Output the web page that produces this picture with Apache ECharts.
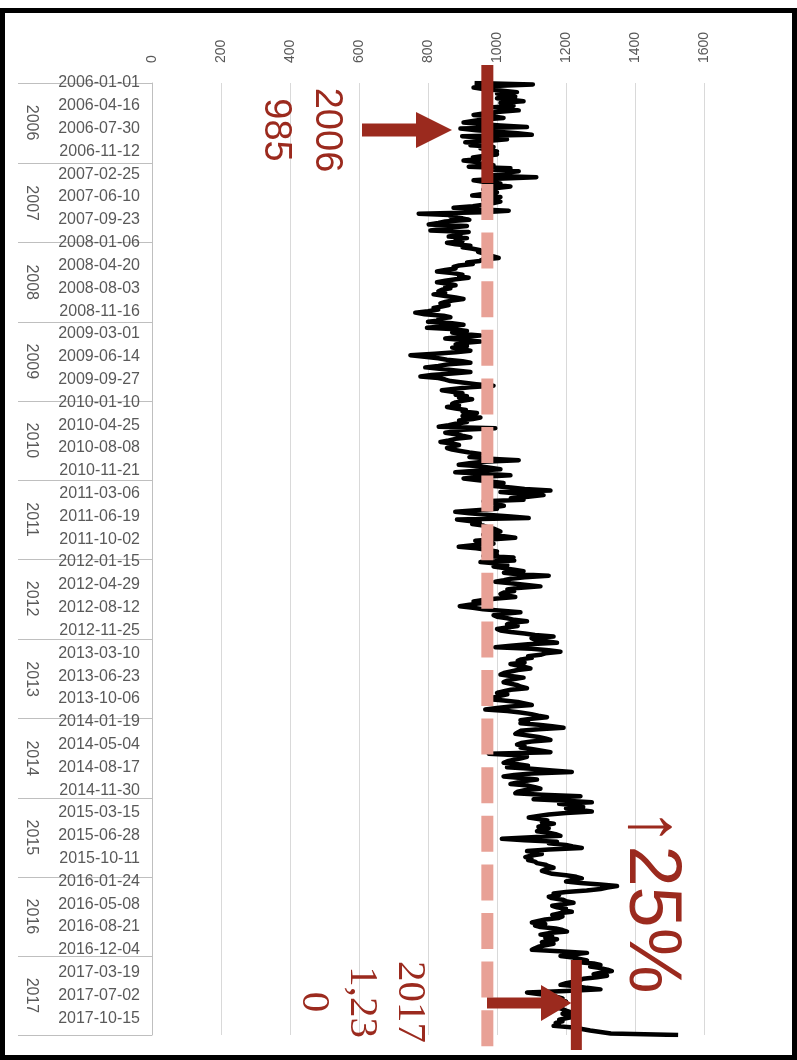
<!DOCTYPE html>
<html><head><meta charset="utf-8">
<script src="https://cdn.jsdelivr.net/npm/echarts@6/dist/echarts.min.js"></script>
<style>html,body{margin:0;padding:0;background:#fff}#c{width:797px;height:1060px}</style>
</head><body><div id="c"></div>
<script>
// ---- data (weekly values) ----
const y2006 = [935,1104,990,932,960,1010,1058,1000,1030,1053,1000,1040,1077,1010,1020,1048,990,1030,1063,1000,960,932,990,1019,960,930,903,950,1010,1087,894,940,1000,1060,1101,899,960,1029,980,908,960,923,990,952,975,1000,985,1000,960,930,950,903,940];
const y2007 = [952,990,918,1039,990,1063,1020,1010,980,1114,1000,932,960,1010,990,1039,1000,960,971,1000,960,928,1010,990,960,1010,990,961,930,874,940,1034,960,773,880,865,900,920,850,830,802,913,870,840,807,918,880,894,860,913,880,900];
const y2008 = [855,880,923,900,930,952,945,960,975,970,1005,960,950,913,930,890,874,880,850,826,870,900,890,918,880,850,826,860,880,850,865,840,830,850,816,850,880,903,870,850,836,860,840,816,830,800,763,790,845,865,830,840];
const y2009 = [800,870,903,850,797,880,913,870,900,952,890,850,845,952,900,880,913,870,900,923,880,820,749,790,830,855,900,923,860,830,792,840,880,923,870,810,778,830,850,865,900,940,990,920,880,840,870,900,880,913,890,928];
const y2010 = [900,880,870,890,855,880,910,900,942,920,900,952,930,890,913,880,860,831,995,900,880,850,880,900,923,880,860,836,870,890,870,855,870,894,920,952,940,920,980,1063,960,920,889,950,980,1010,940,879,960,1039,950,903];
const y2011 = [940,980,1019,980,990,1040,1080,1155,1010,1060,1135,1090,1040,1077,961,990,1000,1020,990,1000,940,879,920,980,1040,1092,884,920,950,928,960,971,990,1000,1010,990,960,1020,1053,990,937,960,990,930,889,940,970,1000,980,1000,961,1048];
const y2012 = [1000,1050,952,1000,1030,990,1020,1050,1077,1020,1060,1150,1080,1040,1020,995,1040,1080,1126,1060,1030,1050,1020,1010,1030,1053,1000,960,932,960,920,892,930,960,961,1068,1020,990,1000,1030,1050,1087,1040,1029,1060,1029,1000,1010,1040,1080,1110,1164,1100];
const y2013 = [1110,1140,1174,1090,1040,995,1100,1150,1184,1140,1126,1090,1101,1070,1060,1080,1039,1060,1080,1097,1060,1040,1020,1010,1040,1077,1050,1030,1019,1040,1060,1070,1087,1040,1020,1000,1030,1010,990,971,1020,1060,1080,1101,1040,1000,966,1030,1068,1100,1120,1145];
const y2014 = [1100,1068,1090,1068,1120,1160,1193,1120,1068,1060,1053,1090,1120,1140,1155,1100,1070,1058,1080,1068,1100,1130,1155,976,1060,1087,1070,1050,1030,1019,1060,1090,1029,1100,1160,1217,1100,1050,1019,1070,1116,1080,1060,1039,1090,1110,1126,1080,1060,1053,1130,1242];
const y2015 = [1150,1106,1200,1275,1180,1220,1250,1200,1240,1275,1200,1150,1120,1092,1120,1146,1130,1165,1140,1120,1150,1130,1116,1150,1170,1184,1100,1014,1080,1174,1150,1200,1220,1246,1150,1087,1110,1130,1100,1082,1100,1090,1110,1116,1140,1150,1164,1140,1130,1126,1160,1200];
const y2016 = [1230,1246,1220,1200,1242,1300,1348,1320,1300,1260,1200,1164,1180,1150,1159,1190,1200,1222,1190,1160,1174,1200,1190,1217,1180,1160,1190,1179,1140,1120,1101,1140,1110,1126,1170,1190,1203,1150,1126,1160,1140,1174,1150,1130,1164,1140,1120,1110,1101,1180,1261,1220];
const y2017 = [1184,1220,1240,1261,1230,1280,1300,1270,1300,1320,1333,1300,1280,1319,1290,1250,1240,1222,1200,1184,1230,1260,1300,1200,1087,1120,1160,1174,1190,1180,1200,1203,1190,1180,1174,1190,1200,1213,1190,1200,1222,1200,1180,1190,1170,1180,1164,1222,1246,1270,1300,1330,1525];
const avg2006 = 972;     // reference level drawn for 2006 ("985")
const level2017 = 1230;  // 2017 level
const valueTicks = [0,200,400,600,800,1000,1200,1400,1600];

// weekly category labels (Sundays)
const firstWeek = '2006-01-01', lastWeek = '2017-12-31';
const weeks = [];
for (let d = Date.parse(firstWeek + 'T00:00:00Z'); d <= Date.parse(lastWeek + 'T00:00:00Z'); d += 7 * 864e5) {
  weeks.push(new Date(d).toISOString().slice(0, 10));
}
const values = [].concat(y2006,y2007,y2008,y2009,y2010,y2011,y2012,y2013,y2014,y2015,y2016,y2017);

const yearStart = new Set(), yearMid = new Set();
{
  let s = 0;
  for (let i = 1; i <= weeks.length; i++) {
    if (i === weeks.length || weeks[i].slice(0,4) !== weeks[i-1].slice(0,4)) {
      yearStart.add(s); yearMid.add(s + Math.floor((i - s) / 2)); s = i;
    }
  }
  yearStart.add(weeks.length - 1);
}

const RED = '#9B2A1E', PINK = '#E8A196', GRAY = '#595959';
const chart = echarts.init(document.getElementById('c'), null, {renderer: 'canvas'});
chart.setOption({
  animation: false,
  backgroundColor: '#fff',
  grid: {left: 152, top: 83, width: 552, height: 952},
  xAxis: {
    type: 'value', position: 'top', min: valueTicks[0], max: valueTicks[valueTicks.length-1], interval: 200,
    axisLine: {show: false}, axisTick: {show: false},
    splitLine: {lineStyle: {color: '#d9d9d9', width: 1}},
    axisLabel: {rotate: -90, margin: 20, align: 'left', verticalAlign: 'middle',
      formatter: (v) => String(v),
      fontSize: 14, color: GRAY, fontFamily: 'Liberation Sans'}
  },
  yAxis: [
    {type: 'category', inverse: true, boundaryGap: false, data: weeks,
     axisLine: {lineStyle: {color: '#bfbfbf', width: 1}}, axisTick: {show: false},
     axisLabel: {interval: 14, margin: 12, fontSize: 16, color: GRAY, fontFamily: 'Liberation Sans'},
     splitLine: {show: false}},
    {type: 'category', inverse: true, boundaryGap: false, data: weeks, position: 'left',
     axisLine: {show: false},
     axisTick: {show: true, interval: (i) => yearStart.has(i), length: 134, lineStyle: {color: '#bfbfbf', width: 1}},
     axisLabel: {interval: (i) => yearMid.has(i), formatter: (v) => v.slice(0,4), rotate: -90, margin: 121,
       align: 'center', verticalAlign: 'middle', fontSize: 16, color: GRAY, fontFamily: 'Liberation Sans'},
     splitLine: {show: false}}
  ],
  series: [{
    type: 'line', xAxisIndex: 0, yAxisIndex: 0, silent: true, showSymbol: false,
    data: values.map((v, i) => [v, weeks[i]]),
    lineStyle: {color: '#000', width: 4.5, join: 'round'}
  }]
});

const xa = chart.convertToPixel({xAxisIndex: 0}, avg2006);
const xb = chart.convertToPixel({xAxisIndex: 0}, level2017);
chart.setOption({
  graphic: [
    {type: 'line', z: 100, shape: {x1: xa, y1: 184, x2: xa, y2: 1047},
     style: {stroke: PINK, lineWidth: 12, lineDash: [36, 12.6], lineCap: 'butt'}},
    {type: 'rect', z: 101, shape: {x: xa - 6, y: 65, width: 12, height: 118}, style: {fill: RED}},
    {type: 'polygon', z: 101, shape: {points: [[362,123.5],[416,123.5],[416,112],[452,130],[416,148],[416,136.5],[362,136.5]]}, style: {fill: RED}},
    {type: 'rect', z: 101, shape: {x: xb - 5.5, y: 960, width: 11, height: 90}, style: {fill: RED}},
    {type: 'polygon', z: 101, shape: {points: [[487,997.5],[541,997.5],[541,985],[xb - 5,1003],[541,1021],[541,1008.5],[487,1008.5]]}, style: {fill: RED}},
    {type: 'text', z: 102, x: 300.5, y: 130, rotation: -Math.PI / 2,
     style: {text: '2006\n985', font: '38px "Liberation Sans"', fill: RED, align: 'center', verticalAlign: 'middle', lineHeight: 51}},
    {type: 'text', z: 102, x: 362, y: 1002, rotation: -Math.PI / 2,
     style: {text: '2017\n1,23\n0', font: '41px "Liberation Serif"', fill: RED, align: 'center', verticalAlign: 'middle', lineHeight: 48}},
    {type: 'text', z: 102, x: 650, y: 901, rotation: -Math.PI / 2,
     style: {text: '↑25%', font: '74px "Liberation Sans"', fill: RED, align: 'center', verticalAlign: 'middle'}},
    {type: 'rect', z: 103, shape: {x: 2.5, y: 10.5, width: 792, height: 1047}, style: {fill: 'none', stroke: '#000', lineWidth: 5}}
  ]
});
</script></body></html>
